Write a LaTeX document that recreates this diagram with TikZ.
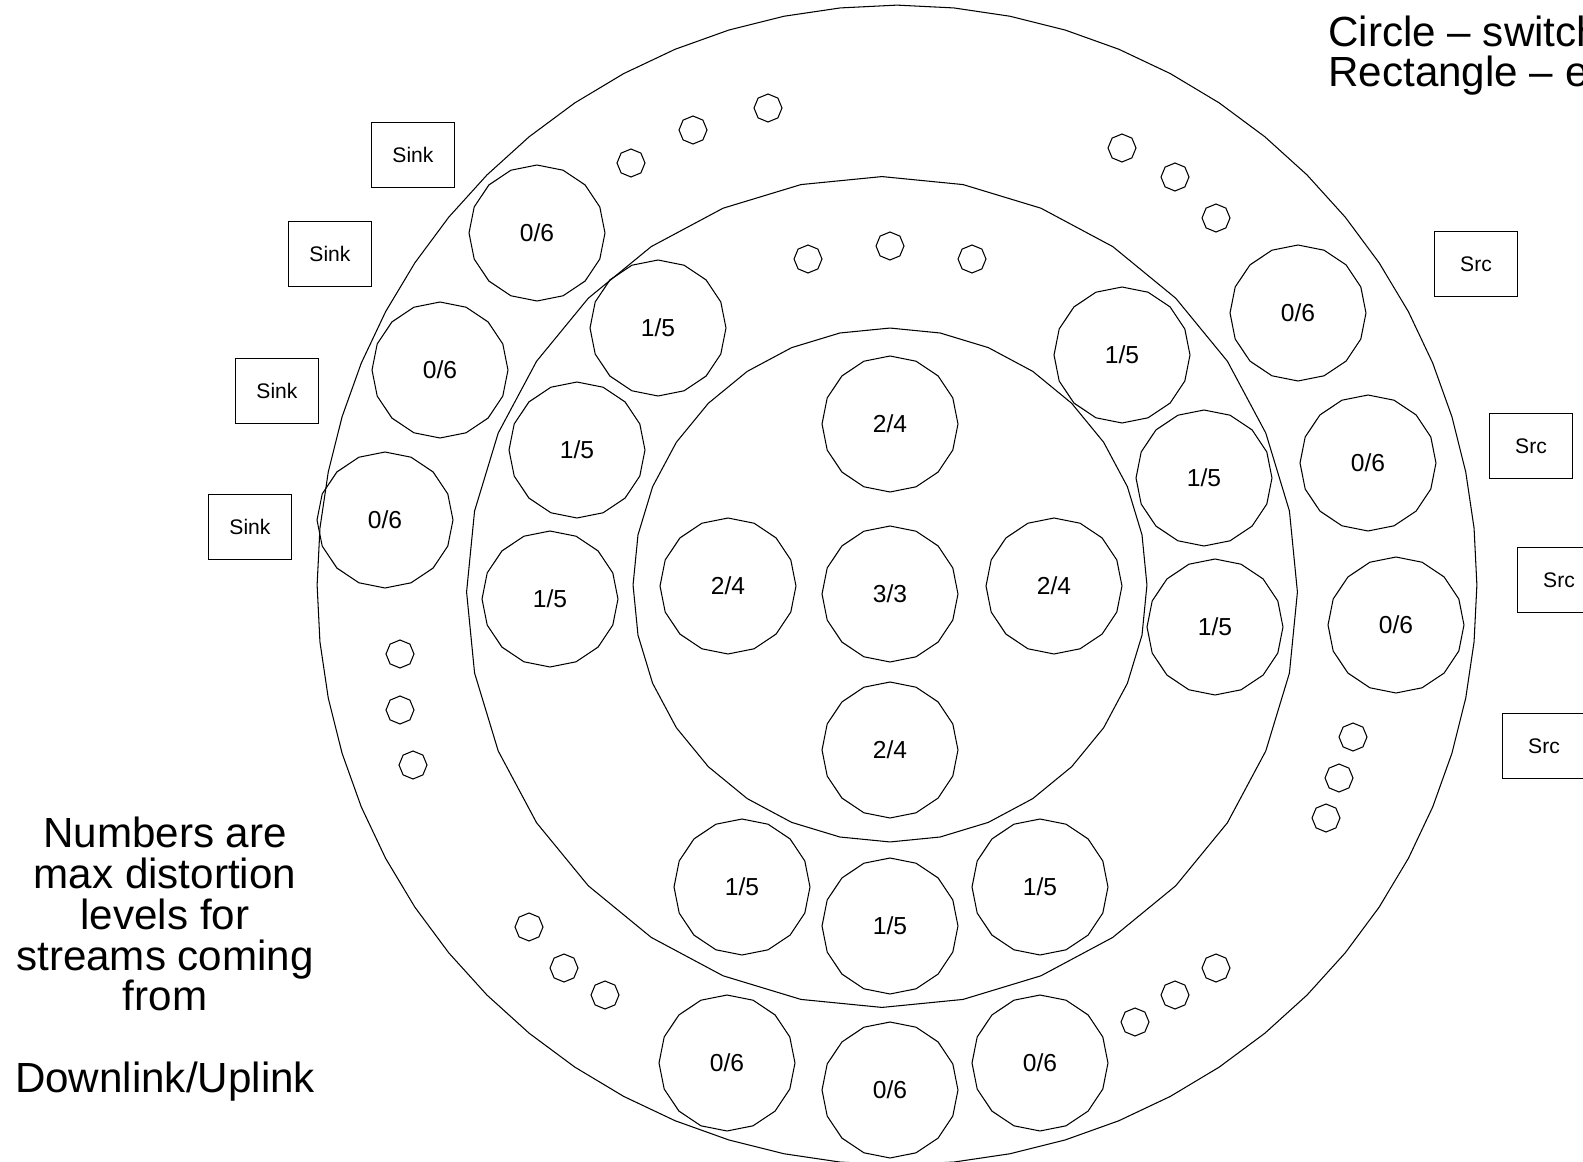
\documentclass[tikz,border=0pt]{standalone}
\usepackage{fontspec}
\setmainfont{Liberation Sans}
\usetikzlibrary{shapes.geometric}

\tikzset{
  ring/.style={draw, regular polygon, regular polygon sides=32, shape border rotate=5.625, inner sep=0pt, line width=0.6pt},
  sw/.style={draw, regular polygon, regular polygon sides=16, shape border rotate=11.25, minimum size=2.72cm, inner sep=0pt, line width=0.6pt, font=\fontsize{14}{16}\selectfont},
  dot/.style={draw, regular polygon, regular polygon sides=8, shape border rotate=22.5, minimum size=0.56cm, inner sep=0pt, line width=0.6pt},
  endbox/.style={draw, rectangle, minimum width=1.65cm, minimum height=1.3cm, inner sep=0pt, line width=0.6pt, font=\fontsize{12}{14}\selectfont}
}

\begin{document}
\begin{tikzpicture}[x=0.02cm, y=-0.02cm]
            \useasboundingbox (0,0) rectangle (1583,1162);
            % rings
            \node[ring, regular polygon sides=64, shape border rotate=2.8125, minimum size=23.2cm] (outer) at (897,585) {};
            \node[ring, minimum size=16.62cm] (middle) at (882,592) {};
            \node[ring, minimum size=10.28cm] (inner) at (890,585) {};
            % inner switches
            \node[sw] (i1) at (890,424) {2/4};
            \node[sw] (i2) at (728,586) {2/4};
            \node[sw] (i3) at (890,594) {3/3};
            \node[sw] (i4) at (1054,586) {2/4};
            \node[sw] (i5) at (890,750) {2/4};
            % middle switches
            \node[sw] (m1) at (658,328) {1/5};
            \node[sw] (m2) at (577,450) {1/5};
            \node[sw] (m3) at (550,599) {1/5};
            \node[sw] (m4) at (1122,355) {1/5};
            \node[sw] (m5) at (1204,478) {1/5};
            \node[sw] (m6) at (1215,627) {1/5};
            \node[sw] (m7) at (742,887) {1/5};
            \node[sw] (m8) at (890,926) {1/5};
            \node[sw] (m9) at (1040,887) {1/5};
            % outer switches
            \node[sw] (o1) at (537,233) {0/6};
            \node[sw] (o2) at (440,370) {0/6};
            \node[sw] (o3) at (385,520) {0/6};
            \node[sw] (o4) at (1298,313) {0/6};
            \node[sw] (o5) at (1368,463) {0/6};
            \node[sw] (o6) at (1396,625) {0/6};
            \node[sw] (o7) at (727,1063) {0/6};
            \node[sw] (o8) at (890,1090) {0/6};
            \node[sw] (o9) at (1040,1063) {0/6};
            % dots
            \node[dot] (d1) at (808,259) {};
            \node[dot] (d2) at (890,246) {};
            \node[dot] (d3) at (972,259) {};
            \node[dot] (d4) at (631,163) {};
            \node[dot] (d5) at (693,130) {};
            \node[dot] (d6) at (768,108) {};
            \node[dot] (d7) at (1122,148) {};
            \node[dot] (d8) at (1175,177) {};
            \node[dot] (d9) at (1216,218) {};
            \node[dot] (d10) at (400,654) {};
            \node[dot] (d11) at (400,710) {};
            \node[dot] (d12) at (413,765) {};
            \node[dot] (d13) at (529,927) {};
            \node[dot] (d14) at (564,968) {};
            \node[dot] (d15) at (605,995) {};
            \node[dot] (d16) at (1135,1022) {};
            \node[dot] (d17) at (1175,995) {};
            \node[dot] (d18) at (1216,968) {};
            \node[dot] (d19) at (1353,737) {};
            \node[dot] (d20) at (1339,778) {};
            \node[dot] (d21) at (1326,818) {};
            % end systems
            \node[endbox] (sink1) at (413,155) {Sink};
            \node[endbox] (sink2) at (330,254) {Sink};
            \node[endbox] (sink3) at (277,391) {Sink};
            \node[endbox] (sink4) at (250,527) {Sink};
            \node[endbox] (src1) at (1476,264) {Src};
            \node[endbox] (src2) at (1531,446) {Src};
            \node[endbox] (src3) at (1559,580) {Src};
            \node[endbox] (src4) at (1544,746) {Src};
            % texts
            \node[anchor=base west, inner sep=0pt, font=\fontsize{24}{24}\selectfont] (key1) at (1328,47) {Circle – switch};
            \node[anchor=base west, inner sep=0pt, font=\fontsize{24}{24}\selectfont] (key2) at (1328,87) {Rectangle – e};
            \node[anchor=north, align=center, inner sep=0pt, font=\fontsize{24}{23.2}\selectfont] (note) at (165,817) {Numbers are\\max distortion\\levels for\\streams coming\\from\\[23.2pt]Downlink/Uplink};
        \end{tikzpicture}
\end{document}
